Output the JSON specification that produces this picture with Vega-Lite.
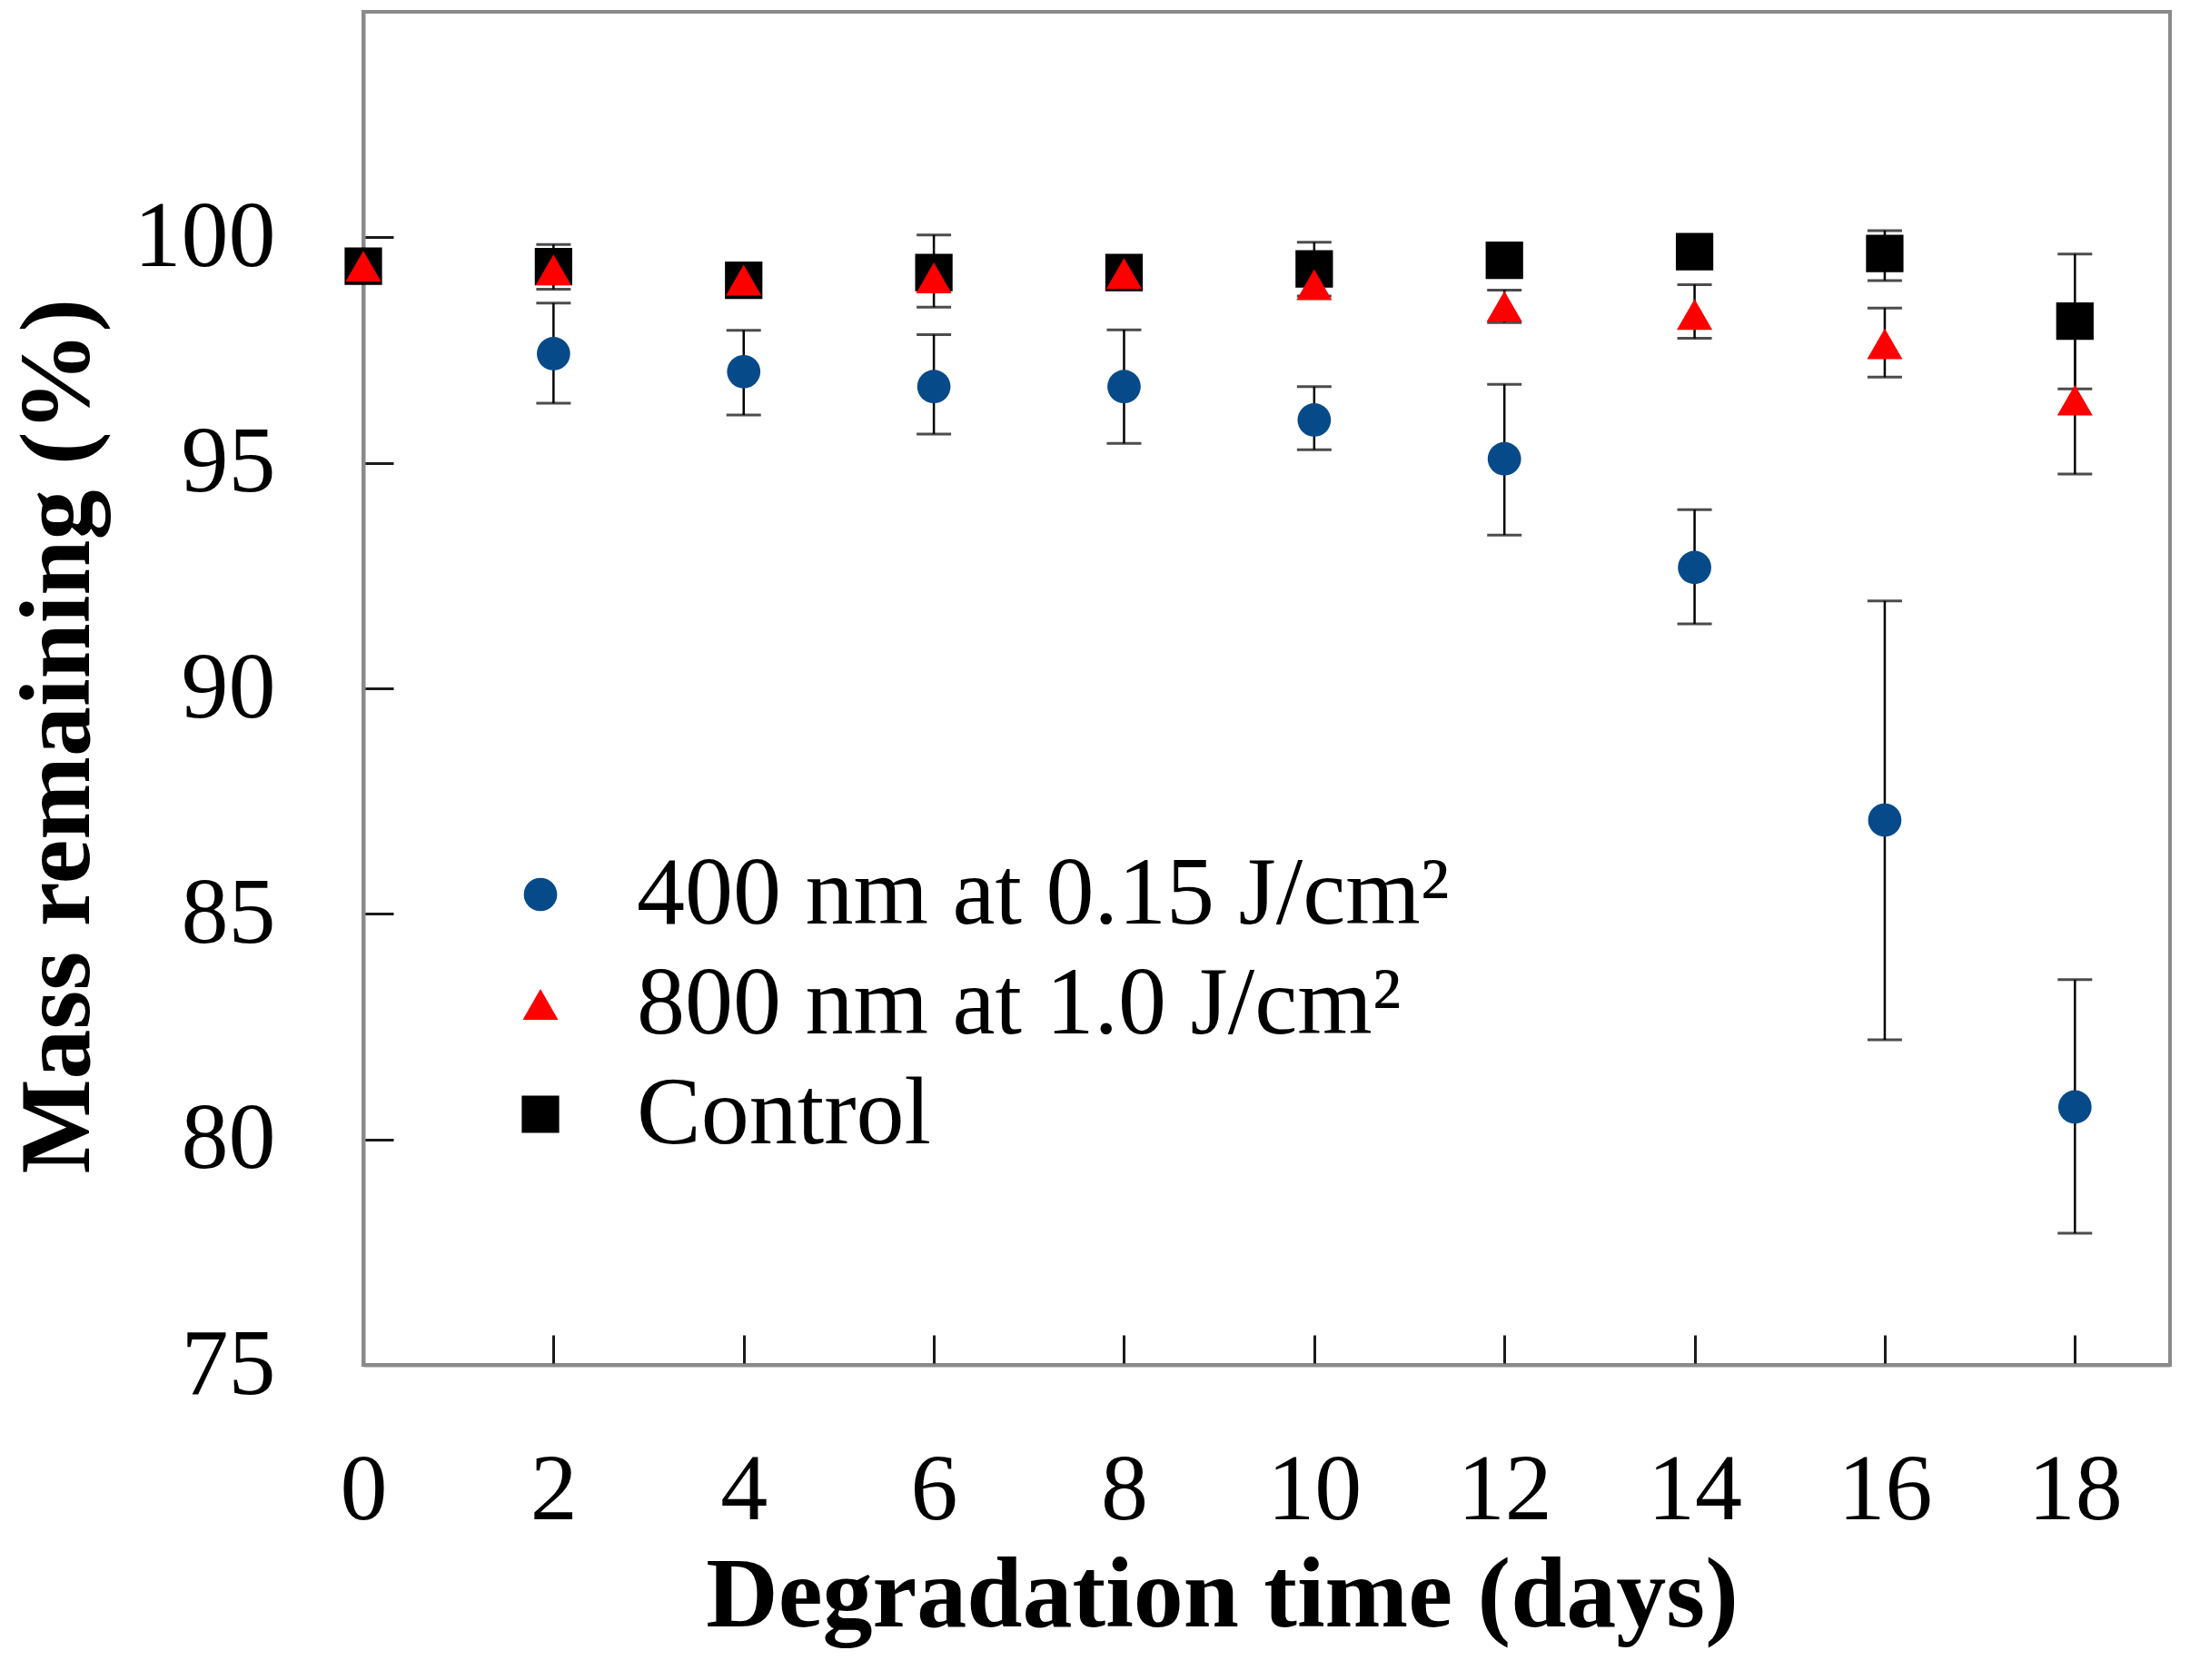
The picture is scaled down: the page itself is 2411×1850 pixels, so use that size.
{
  "$schema": "https://vega.github.io/schema/vega-lite/v6.json",
  "width": 1989,
  "height": 1490,
  "autosize": {"type": "none"},
  "padding": {"left": 400, "top": 13, "right": 22, "bottom": 347},
  "background": "white",
  "config": {
    "font": "Liberation Serif",
    "view": {"stroke": "#8a8a8a", "strokeWidth": 4},
    "axis": {
      "grid": false,
      "domainColor": "#8a8a8a",
      "domainWidth": 4,
      "tickColor": "#1a1a1a",
      "tickWidth": 3,
      "tickSize": -33,
      "labelFont": "Liberation Serif",
      "labelFontSize": 104,
      "labelColor": "#000000",
      "labelFlush": false,
      "titleFont": "Liberation Serif",
      "titleFontSize": 110,
      "titleFontWeight": "bold",
      "titleColor": "#000000"
    },
    "legend": {
      "labelFont": "Liberation Serif",
      "labelFontSize": 106,
      "labelColor": "#000000",
      "labelLimit": 0
    }
  },
  "data": {
    "values": [
      {"series": "400 nm at 0.15 J/cm²", "day": 0, "value": 99.4, "lo": 99.4, "hi": 99.4},
      {"series": "400 nm at 0.15 J/cm²", "day": 2, "value": 97.42, "lo": 96.32, "hi": 98.54},
      {"series": "400 nm at 0.15 J/cm²", "day": 4, "value": 97.02, "lo": 96.06, "hi": 97.94},
      {"series": "400 nm at 0.15 J/cm²", "day": 6, "value": 96.69, "lo": 95.64, "hi": 97.84},
      {"series": "400 nm at 0.15 J/cm²", "day": 8, "value": 96.69, "lo": 95.43, "hi": 97.95},
      {"series": "400 nm at 0.15 J/cm²", "day": 10, "value": 95.95, "lo": 95.29, "hi": 96.69},
      {"series": "400 nm at 0.15 J/cm²", "day": 12, "value": 95.09, "lo": 93.4, "hi": 96.74},
      {"series": "400 nm at 0.15 J/cm²", "day": 14, "value": 92.68, "lo": 91.43, "hi": 93.96},
      {"series": "400 nm at 0.15 J/cm²", "day": 16, "value": 87.08, "lo": 82.21, "hi": 91.94},
      {"series": "400 nm at 0.15 J/cm²", "day": 18, "value": 80.72, "lo": 77.92, "hi": 83.54},
      {"series": "Control", "day": 0, "value": 99.36, "lo": 99.36, "hi": 99.36},
      {"series": "Control", "day": 2, "value": 99.35, "lo": 98.85, "hi": 99.84},
      {"series": "Control", "day": 4, "value": 99.05, "lo": 98.85, "hi": 99.25},
      {"series": "Control", "day": 6, "value": 99.22, "lo": 98.45, "hi": 100.05},
      {"series": "Control", "day": 8, "value": 99.22, "lo": 99.07, "hi": 99.37},
      {"series": "Control", "day": 10, "value": 99.3, "lo": 98.7, "hi": 99.89},
      {"series": "Control", "day": 12, "value": 99.49, "lo": 99.39, "hi": 99.59},
      {"series": "Control", "day": 14, "value": 99.68, "lo": 99.58, "hi": 99.78},
      {"series": "Control", "day": 16, "value": 99.64, "lo": 99.04, "hi": 100.15},
      {"series": "Control", "day": 18, "value": 98.14, "lo": 96.64, "hi": 99.63},
      {"series": "800 nm at 1.0 J/cm²", "day": 0, "value": 99.36, "lo": 99.36, "hi": 99.36},
      {"series": "800 nm at 1.0 J/cm²", "day": 2, "value": 99.28, "lo": 99.28, "hi": 99.28},
      {"series": "800 nm at 1.0 J/cm²", "day": 4, "value": 99.05, "lo": 99.05, "hi": 99.05},
      {"series": "800 nm at 1.0 J/cm²", "day": 6, "value": 99.1, "lo": 99.1, "hi": 99.1},
      {"series": "800 nm at 1.0 J/cm²", "day": 8, "value": 99.2, "lo": 99.2, "hi": 99.2},
      {"series": "800 nm at 1.0 J/cm²", "day": 10, "value": 98.95, "lo": 98.95, "hi": 98.95},
      {"series": "800 nm at 1.0 J/cm²", "day": 12, "value": 98.47, "lo": 98.11, "hi": 98.83},
      {"series": "800 nm at 1.0 J/cm²", "day": 14, "value": 98.29, "lo": 97.76, "hi": 98.95},
      {"series": "800 nm at 1.0 J/cm²", "day": 16, "value": 97.64, "lo": 96.9, "hi": 98.43},
      {"series": "800 nm at 1.0 J/cm²", "day": 18, "value": 96.39, "lo": 94.75, "hi": 98.03}
    ]
  },
  "layer": [
    {
      "transform": [{"filter": "datum.hi > datum.lo"}],
      "mark": {"type": "rule", "color": "#000000", "strokeWidth": 2.5},
      "encoding": {
        "x": {"field": "day", "type": "quantitative"},
        "y": {"field": "lo", "type": "quantitative"},
        "y2": {"field": "hi"}
      }
    },
    {
      "transform": [{"filter": "datum.hi > datum.lo"}],
      "mark": {"type": "tick", "orient": "horizontal", "color": "#000000", "size": 38, "thickness": 3},
      "encoding": {
        "x": {"field": "day", "type": "quantitative"},
        "y": {"field": "lo", "type": "quantitative"}
      }
    },
    {
      "transform": [{"filter": "datum.hi > datum.lo"}],
      "mark": {"type": "tick", "orient": "horizontal", "color": "#000000", "size": 38, "thickness": 3},
      "encoding": {
        "x": {"field": "day", "type": "quantitative"},
        "y": {"field": "hi", "type": "quantitative"}
      }
    },
    {
      "mark": {"type": "point", "filled": true, "opacity": 1, "strokeWidth": 0},
      "encoding": {
        "x": {"field": "day", "type": "quantitative"},
        "y": {"field": "value", "type": "quantitative"},
        "color": {
          "field": "series",
          "type": "nominal",
          "scale": {
            "domain": ["400 nm at 0.15 J/cm²", "800 nm at 1.0 J/cm²", "Control"],
            "range": ["#064a89", "#ff0000", "#000000"]
          },
          "legend": {
            "title": null,
            "orient": "none",
            "legendX": 142,
            "legendY": 919,
            "padding": 0,
            "symbolSize": 1250,
            "symbolStrokeWidth": 0,
            "labelOffset": 53,
            "rowPadding": 15
          }
        },
        "shape": {
          "field": "series",
          "type": "nominal",
          "scale": {
            "domain": ["400 nm at 0.15 J/cm²", "800 nm at 1.0 J/cm²", "Control"],
            "range": ["circle", "triangle-up", "square"]
          }
        },
        "size": {
          "field": "series",
          "type": "nominal",
          "scale": {
            "domain": ["400 nm at 0.15 J/cm²", "800 nm at 1.0 J/cm²", "Control"],
            "range": [1350, 1700, 1900]
          },
          "legend": null
        }
      }
    }
  ],
  "encoding": {
    "x": {
      "field": "day",
      "type": "quantitative",
      "scale": {"domain": [0, 19], "nice": false, "zero": false},
      "axis": {
        "values": [0, 2, 4, 6, 8, 10, 12, 14, 16, 18],
        "title": "Degradation time (days)",
        "labelPadding": 120,
        "tickColor": {"condition": {"test": "datum.value == 0", "value": "transparent"}, "value": "#1a1a1a"},
        "titleX": 945,
        "titleY": 287,
        "titleAlign": "center",
        "titleBaseline": "alphabetic"
      }
    },
    "y": {
      "field": "value",
      "type": "quantitative",
      "scale": {"domain": [75, 105], "nice": false, "zero": false},
      "axis": {
        "values": [75, 80, 85, 90, 95, 100],
        "title": "Mass remaining (%)",
        "labelPadding": 130,
        "tickColor": {"condition": {"test": "datum.value == 75", "value": "transparent"}, "value": "#1a1a1a"},
        "titleX": -303,
        "titleY": 797,
        "titleAngle": -90,
        "titleAlign": "center",
        "titleBaseline": "alphabetic"
      }
    }
  }
}
